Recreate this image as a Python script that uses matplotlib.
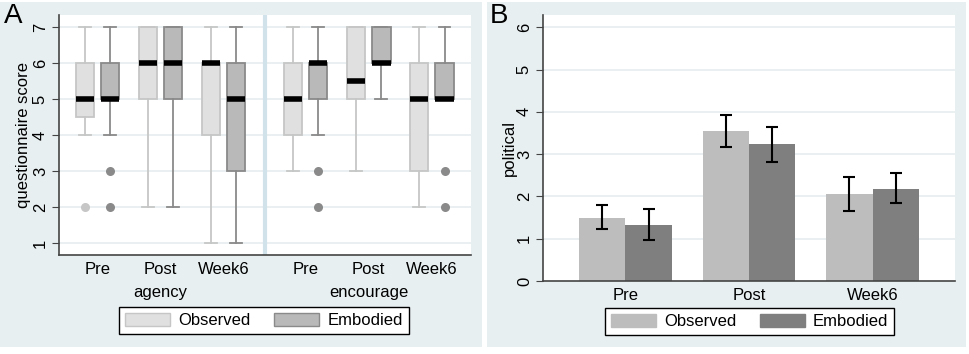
import matplotlib
matplotlib.use("Agg")
import matplotlib.pyplot as plt
from matplotlib.patches import Rectangle, Patch
from matplotlib.transforms import blended_transform_factory

plt.rcParams['font.family'] = ['Liberation Sans', 'DejaVu Sans']

# ---------------- data ----------------
timepoints = ["Pre", "Post", "Week6"]
conditions = ["agency", "encourage"]
groups = ["Observed", "Embodied"]

# box stats per condition, per timepoint: (whislo, q1, med, q3, whishi, fliers)
agency_observed = [(4, 4.5, 5, 6, 7, [2]), (2, 5, 6, 7, 7, []), (1, 4, 6, 6, 7, [])]
agency_embodied = [(4, 5, 5, 6, 7, [2, 3]), (2, 5, 6, 7, 7, []), (1, 3, 5, 6, 7, [])]
encourage_observed = [(3, 4, 5, 6, 7, []), (3, 5, 5.5, 7, 7, []), (2, 3, 5, 6, 7, [])]
encourage_embodied = [(4, 5, 6, 6, 7, [2, 3]), (5, 6, 6, 7, 7, []), (5, 5, 5, 6, 7, [2, 3])]

political_mean_observed = [1.50, 3.55, 2.05]
political_mean_embodied = [1.33, 3.24, 2.18]
political_lo_observed = [1.22, 3.18, 1.65]
political_hi_observed = [1.79, 3.92, 2.45]
political_lo_embodied = [0.97, 2.82, 1.84]
political_hi_embodied = [1.70, 3.65, 2.55]

# ---------------- style ----------------
W, H = 969, 354
fig = plt.figure(figsize=(W / 100, H / 100), dpi=100, facecolor="white")

panel_bg = "#e8eff1"
grid_c = "#e6edef"
spine_c = "#444444"
obs_fill, obs_edge = "#e0e0e0", "#c6c6c6"
emb_fill, emb_edge = "#b9b9b9", "#8a8a8a"
bar_obs, bar_emb = "#bdbdbd", "#7f7f7f"


def fig_rect(x0, y0, x1, y1):
    return (x0 / W, 1 - y1 / H, (x1 - x0) / W, (y1 - y0) / H)


# panel backgrounds
for (x0, x1) in [(0, 482), (487, 966)]:
    l, b, w, h = fig_rect(x0, 2, x1, 347)
    fig.patches.append(Rectangle((l, b), w, h, transform=fig.transFigure,
                                 facecolor=panel_bg, edgecolor="none", zorder=-10))

# ---------------- Panel A ----------------
axA = fig.add_axes(fig_rect(59, 15, 471, 255))
axA.set_facecolor("white")
centers_left = [0, 1, 2]
centers_right = [3.3, 4.3, 5.3]
off = 0.2
bw = 0.29


def stats_from(tuples):
    out = []
    for (lo, q1, med, q3, hi, fl) in tuples:
        out.append(dict(whislo=lo, q1=q1, med=med, q3=q3, whishi=hi, fliers=fl))
    return out


def draw_boxes(data, positions, fill, edge):
    axA.bxp(stats_from(data), positions=positions, widths=bw, capwidths=0.19,
            patch_artist=True, showfliers=True, manage_ticks=False,
            boxprops=dict(facecolor=fill, edgecolor=edge, linewidth=1.3),
            whiskerprops=dict(color=edge, linewidth=1.3),
            capprops=dict(color=edge, linewidth=1.3),
            medianprops=dict(color="black", linewidth=4, solid_capstyle="butt"),
            flierprops=dict(marker="o", markersize=6.5, markerfacecolor=edge,
                            markeredgecolor="none"))


draw_boxes(agency_observed, [c - off for c in centers_left], obs_fill, obs_edge)
draw_boxes(agency_embodied, [c + off for c in centers_left], emb_fill, emb_edge)
draw_boxes(encourage_observed, [c - off for c in centers_right], obs_fill, obs_edge)
draw_boxes(encourage_embodied, [c + off for c in centers_right], emb_fill, emb_edge)

axA.set_xlim(-0.61, 5.92)
axA.set_ylim(0.67, 7.33)
axA.set_yticks(range(1, 8))
for y in range(1, 8):
    axA.axhline(y, color=grid_c, lw=1.2, zorder=0)
axA.axvline(2.65, color="#d2e2ea", lw=3, zorder=0.5)
axA.set_xticks(centers_left + centers_right)
axA.set_xticklabels(timepoints + timepoints, fontsize=12)
axA.tick_params(axis="x", length=0, pad=5)
axA.tick_params(axis="y", length=5, color=spine_c, labelsize=12, labelrotation=90, pad=3)
for lab in axA.get_yticklabels():
    lab.set_va("center")
for s in ["top", "right"]:
    axA.spines[s].set_visible(False)
for s in ["left", "bottom"]:
    axA.spines[s].set_color(spine_c)
    axA.spines[s].set_linewidth(1.2)
axA.set_ylabel("questionnaire score", fontsize=12, labelpad=1)
trA = blended_transform_factory(axA.transData, fig.transFigure)
axA.text(centers_left[1], 1 - 292 / H, conditions[0], transform=trA,
         ha="center", va="center", fontsize=12)
axA.text(centers_right[1], 1 - 292 / H, conditions[1], transform=trA,
         ha="center", va="center", fontsize=12)

# ---------------- Panel B ----------------
axB = fig.add_axes(fig_rect(543, 15, 955, 281))
axB.set_facecolor("white")
x = list(range(len(timepoints)))
bwB = 0.374
err_obs = [[m - lo for m, lo in zip(political_mean_observed, political_lo_observed)],
           [hi - m for m, hi in zip(political_mean_observed, political_hi_observed)]]
err_emb = [[m - lo for m, lo in zip(political_mean_embodied, political_lo_embodied)],
           [hi - m for m, hi in zip(political_mean_embodied, political_hi_embodied)]]
axB.bar([i - bwB / 2 for i in x], political_mean_observed, width=bwB, color=bar_obs, zorder=2)
axB.bar([i + bwB / 2 for i in x], political_mean_embodied, width=bwB, color=bar_emb, zorder=2)
axB.errorbar([i - bwB / 2 for i in x], political_mean_observed, yerr=err_obs, fmt="none",
             ecolor="black", elinewidth=1.5, capsize=4.5, capthick=1.5, zorder=3)
axB.errorbar([i + bwB / 2 for i in x], political_mean_embodied, yerr=err_emb, fmt="none",
             ecolor="black", elinewidth=1.5, capsize=4.5, capthick=1.5, zorder=3)
axB.set_xlim(-0.667, 2.667)
axB.set_ylim(0, 6.29)
axB.set_yticks(range(0, 7))
for y in range(1, 7):
    axB.axhline(y, color=grid_c, lw=1.2, zorder=0)
axB.set_xticks(x)
axB.set_xticklabels(timepoints, fontsize=12)
axB.tick_params(axis="x", length=0, pad=5)
axB.tick_params(axis="y", length=5, color=spine_c, labelsize=12, labelrotation=90, pad=3)
for lab in axB.get_yticklabels():
    lab.set_va("center")
for s in ["top", "right"]:
    axB.spines[s].set_visible(False)
for s in ["left", "bottom"]:
    axB.spines[s].set_color(spine_c)
    axB.spines[s].set_linewidth(1.2)
axB.set_ylabel("political", fontsize=12, labelpad=0)

# ---------------- legends ----------------
def add_legend(cx, cy, c1, e1, c2, e2):
    handles = [Patch(facecolor=c1, edgecolor=e1, label=groups[0]),
               Patch(facecolor=c2, edgecolor=e2, label=groups[1])]
    leg = fig.legend(handles=handles, loc="center", bbox_to_anchor=(cx / W, 1 - cy / H),
                     bbox_transform=fig.transFigure, ncol=2, fontsize=12,
                     frameon=True, fancybox=False, framealpha=1, edgecolor="black",
                     handlelength=2.7, handleheight=0.8, handletextpad=0.5,
                     columnspacing=1.4, borderpad=0.35, borderaxespad=0)
    leg.get_frame().set_linewidth(1.0)
    return leg


add_legend(264, 320.5, obs_fill, obs_edge, emb_fill, emb_edge)
add_legend(749.5, 321.5, bar_obs, bar_obs, bar_emb, bar_emb)

# panel letters
fig.text(4 / W, 1 - 16 / H, "A", fontsize=20, ha="left", va="center")
fig.text(490 / W, 1 - 16 / H, "B", fontsize=20, ha="left", va="center")

fig.savefig("out.png", dpi=100, facecolor="white")
